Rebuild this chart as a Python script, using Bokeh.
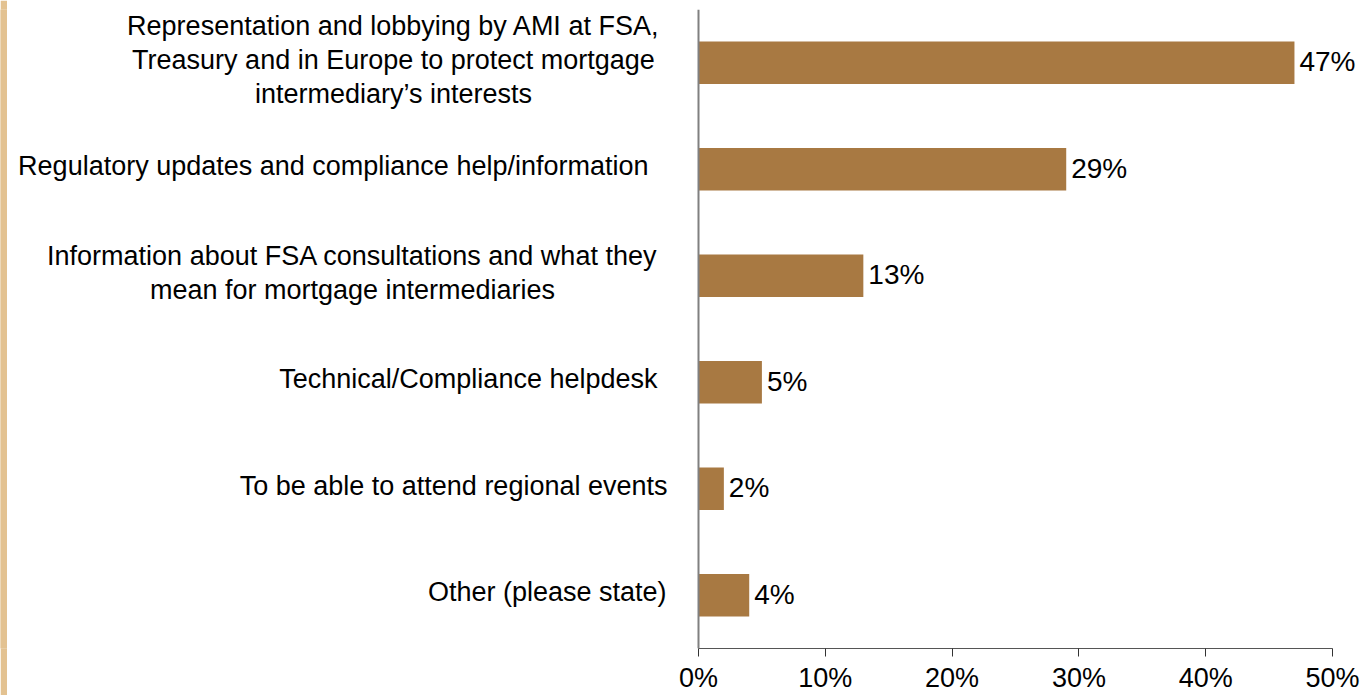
from bokeh.plotting import figure
from bokeh.models import ColumnDataSource, LabelSet, FactorRange, FixedTicker, Range1d, Span
from bokeh.core.properties import value
from bokeh.layouts import row
from bokeh.embed import file_html
from bokeh.resources import INLINE

categories = [
    "Representation and lobbying by AMI at FSA,\nTreasury and in Europe to protect mortgage\nintermediary\u2019s interests",
    "Regulatory updates and compliance help/information",
    "Information about FSA consultations and what they\nmean for mortgage intermediaries",
    "Technical/Compliance helpdesk",
    "To be able to attend regional events",
    "Other (please state)",
]
values = [47, 29, 13, 5, 2, 4]
value_labels = ["47%", "29%", "13%", "5%", "2%", "4%"]
tick_values = [0, 10, 20, 30, 40, 50]
tick_labels = ["0%", "10%", "20%", "30%", "40%", "50%"]

FONT = "Liberation Sans"
BAR = "#A87942"

W, H = 1369, 695
STRIPE = 7
PW = W - STRIPE
X0_PX = 691          # pixel (inside main figure) of the 0% line
X50_PX = 1325        # pixel of the 50% line
upp = (tick_values[-1] - tick_values[0]) / (X50_PX - X0_PX)
x_start = -X0_PX * upp
x_end = tick_values[-1] + (PW - X50_PX) * upp

keys = [str(i) for i in range(len(categories))]

src = ColumnDataSource(dict(key=keys, val=values, lbl=value_labels))

# category label lines (screen offsets from the zero line)
cat_xoff = [-305, -50, -346, -41, -31, -32]
LINE_H = 34
RAISE = 3
l_key, l_txt, l_align, l_xoff, l_yoff, l_zero = [], [], [], [], [], []
for k, cat, xo in zip(keys, categories, cat_xoff):
    lines = cat.split("\n")
    n = len(lines)
    for j, t in enumerate(lines):
        l_key.append(k)
        l_txt.append(t)
        l_align.append("center" if n > 1 else "right")
        l_xoff.append(xo)
        l_yoff.append(((n - 1) / 2 - j) * LINE_H + RAISE)
        l_zero.append(0)
lsrc = ColumnDataSource(dict(key=l_key, txt=l_txt, align=l_align,
                             xoff=l_xoff, yoff=l_yoff, zero=l_zero))

p = figure(width=PW, height=H, output_backend="svg", toolbar_location=None,
           y_range=FactorRange(factors=keys[::-1]), x_range=Range1d(x_start, x_end),
           min_border_left=0, min_border_right=0, min_border_top=9,
           min_border_bottom=46)
p.outline_line_color = None
p.xgrid.visible = False
p.ygrid.visible = False
p.background_fill_color = "white"
p.border_fill_color = "white"
p.yaxis.visible = False

p.hbar(y="key", left=0, right="val", height=0.4, source=src,
       fill_color=BAR, line_color=None)

# x axis
xa = p.xaxis[0]
xa.bounds = (tick_values[0], tick_values[-1])
xa.ticker = FixedTicker(ticks=tick_values)
xa.major_label_overrides = {t: l for t, l in zip(tick_values, tick_labels)}
xa.major_label_text_font = FONT
xa.major_label_text_font_size = "27px"
xa.major_label_text_color = "black"
xa.axis_line_color = "#555555"
xa.axis_line_width = 1
xa.major_tick_line_color = "#333333"
xa.major_tick_in = 0
xa.major_tick_out = 8
xa.minor_tick_line_color = None
xa.major_label_standoff = 6

# y axis line
p.add_layout(Span(location=0, dimension="height", line_color="#808080", line_width=2))

# value labels
p.add_layout(LabelSet(x="val", y="key", text="lbl", source=src, x_offset=5, y_offset=1,
                      text_baseline="middle", text_align="left",
                      text_font=value(FONT), text_font_size=value("28px"),
                      text_color=value("black")))

# category labels
p.add_layout(LabelSet(x="zero", y="key", text="txt", source=lsrc,
                      x_offset="xoff", y_offset="yoff",
                      text_baseline="middle", text_align="align",
                      text_font=value(FONT), text_font_size=value("27px"),
                      text_color=value("black")))

stripe = figure(width=STRIPE, height=H, output_backend="svg", toolbar_location=None,
                min_border=0, x_range=Range1d(0, 1), y_range=Range1d(0, 1))
stripe.axis.visible = False
stripe.grid.visible = False
stripe.outline_line_color = None
stripe.background_fill_color = "#E3C291"
stripe.border_fill_color = "#E3C291"
stripe.quad(left=[0], right=[1], bottom=[0], top=[1], fill_color="#E3C291", line_color=None)

layout = row(stripe, p, spacing=0)
open("out.html", "w").write(file_html(layout, INLINE))
